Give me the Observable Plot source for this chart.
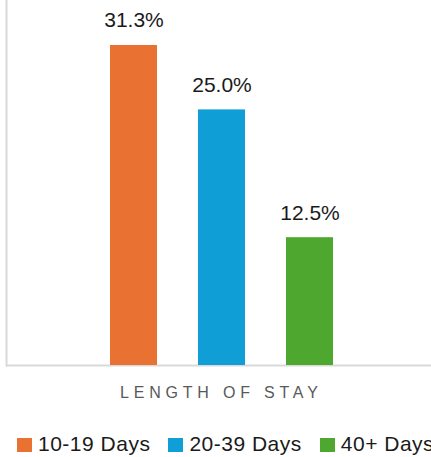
<!DOCTYPE html>
<html><head><meta charset="utf-8">
<script src="https://cdn.jsdelivr.net/npm/d3@7"></script>
<script src="https://cdn.jsdelivr.net/npm/@observablehq/plot@0.6"></script>
<style>
html,body{margin:0;padding:0;background:#fff;}
#wrap{width:431px;height:457px;position:relative;overflow:hidden;font-family:"Liberation Sans",Arial,sans-serif;}
#wrap svg{position:absolute;left:0;top:0;}
#xtitle{position:absolute;left:120px;top:385px;font-size:16px;line-height:1;letter-spacing:4.8px;color:#595959;white-space:nowrap;}
#legend{position:absolute;left:17px;top:433px;display:flex;align-items:flex-start;white-space:nowrap;font-size:21px;line-height:1;color:#1a1a1a;}
.item{display:flex;align-items:flex-start;margin-right:18px;}
.sw{width:15px;height:14px;margin-top:5px;margin-right:6px;flex:none;}
.lt{letter-spacing:0.5px;}
</style></head><body><div id="wrap"></div>
<script>
const categories = ["10-19 Days", "20-39 Days", "40+ Days"];
const values = [31.3, 25.0, 12.5];
const labels = ["31.3%", "25.0%", "12.5%"];
const colors = ["#E97132", "#0F9ED5", "#4EA72E"];
const axisTitle = "LENGTH OF STAY";

const data = categories.map((c, i) => ({category: c, value: values[i], label: labels[i]}));

const chart = Plot.plot({
  width: 431, height: 367,
  marginTop: 0, marginBottom: 2, marginLeft: 6, marginRight: 0,
  style: {fontFamily: "Liberation Sans, Arial, sans-serif", background: "transparent"},
  x: {domain: categories, range: [88, 354], paddingInner: 0.47, paddingOuter: 0.235, axis: null},
  y: {domain: [0, 35.7], axis: null},
  color: {domain: categories, range: colors},
  marks: [
    Plot.ruleY([0], {stroke: "#d9d9d9", strokeWidth: 2}),
    Plot.frame({anchor: "left", stroke: "#d9d9d9", strokeWidth: 2}),
    Plot.barY(data, {x: "category", y: "value", fill: "category"}),
    Plot.text(data, {x: "category", y: "value", text: "label", lineAnchor: "bottom", dy: -18, fontSize: 21, fill: "#1a1a1a", letterSpacing: 0.6})
  ]
});
const wrap = document.getElementById("wrap");
wrap.appendChild(chart);

const t = document.createElement("div");
t.id = "xtitle";
t.textContent = axisTitle;
wrap.appendChild(t);

const lg = document.createElement("div");
lg.id = "legend";
categories.forEach((c, i) => {
  const it = document.createElement("div"); it.className = "item";
  const sw = document.createElement("div"); sw.className = "sw"; sw.style.background = colors[i];
  const tx = document.createElement("span"); tx.className = "lt"; tx.textContent = c;
  it.appendChild(sw); it.appendChild(tx); lg.appendChild(it);
});
wrap.appendChild(lg);
</script></body></html>
